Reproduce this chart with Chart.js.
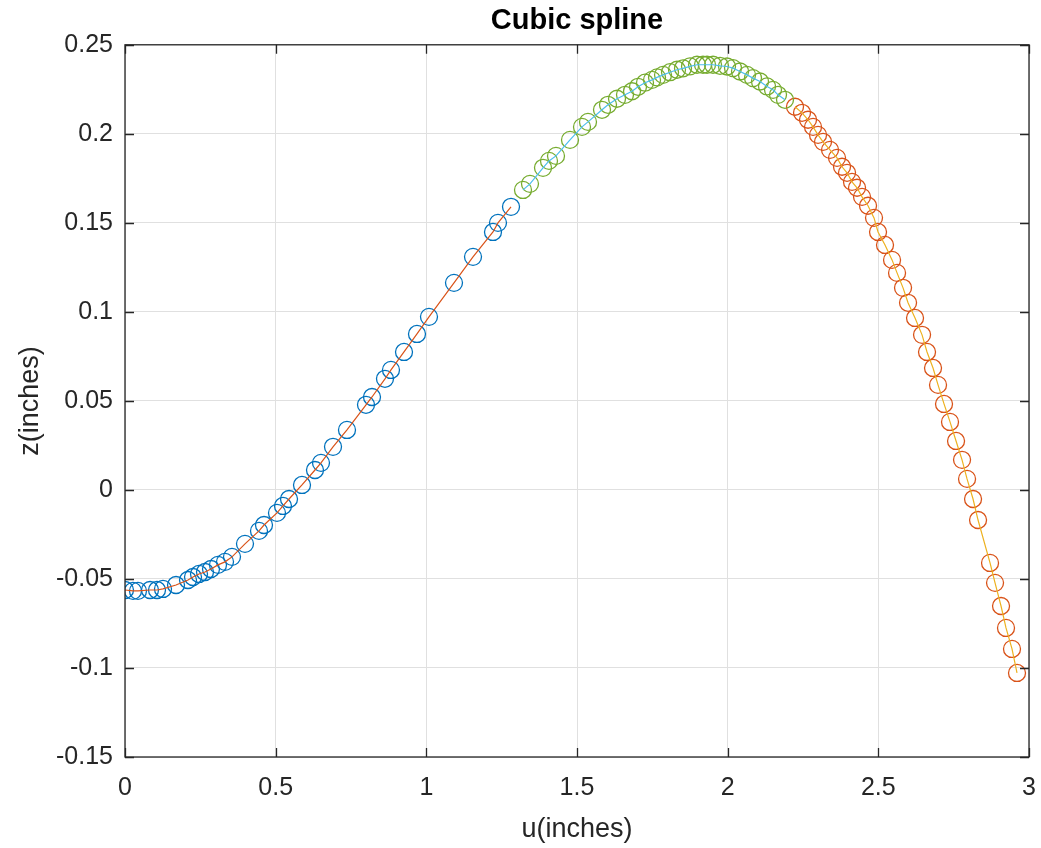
<!DOCTYPE html>
<html>
<head>
<meta charset="utf-8">
<title>Cubic spline</title>
<script src="https://cdn.jsdelivr.net/npm/chart.js@4.4.1/dist/chart.umd.min.js"></script>
<style>
  html, body { margin: 0; padding: 0; background: #fff; }
  #wrap { width: 1041px; height: 848px; }
</style>
</head>
<body>
<div id="wrap"><canvas id="spline" width="1041" height="848"></canvas></div>
<script>
// segment 1 (blue circles, orange line)
const u1 = [0, 0.0265, 0.0431, 0.0830, 0.1062, 0.1261, 0.1693, 0.2091, 0.2257, 0.2456,
  0.2655, 0.2854, 0.3086, 0.3319, 0.3551, 0.3982, 0.4447, 0.4613, 0.5044, 0.5243,
  0.5443, 0.5874, 0.6305, 0.6504, 0.6903, 0.7367, 0.7998, 0.8197, 0.8628, 0.8827,
  0.9259, 0.9690, 1.0088, 1.0918, 1.1549, 1.2212, 1.2378, 1.2810];
const z1 = [-0.0562, -0.0567, -0.0567, -0.0562, -0.0562, -0.0556, -0.0534, -0.0506, -0.0489, -0.0472,
  -0.0461, -0.0444, -0.0421, -0.0404, -0.0376, -0.0303, -0.0230, -0.0197, -0.0129, -0.0090,
  -0.0051, 0.0028, 0.0112, 0.0152, 0.0242, 0.0337, 0.0478, 0.0522, 0.0624, 0.0674,
  0.0775, 0.0876, 0.0972, 0.1163, 0.1309, 0.1449, 0.1500, 0.1590];

// segment 2 (green circles, light blue line)
const u2 = [1.3208, 1.3440, 1.3872, 1.4071, 1.4303, 1.4768, 1.5166, 1.5365, 1.5830, 1.6029,
  1.6328, 1.6593, 1.6826, 1.7025, 1.7257, 1.7490, 1.7656, 1.7855, 1.8087, 1.8319,
  1.8518, 1.8751, 1.8983, 1.9182, 1.9315, 1.9514, 1.9746, 1.9978, 2.0177, 2.0410,
  2.0642, 2.0841, 2.1073, 2.1306, 2.1505, 2.1671, 2.1903];
const z2 = [0.1685, 0.1719, 0.1809, 0.1848, 0.1876, 0.1966, 0.2039, 0.2067, 0.2135, 0.2163,
  0.2197, 0.2219, 0.2239, 0.2264, 0.2287, 0.2303, 0.2317, 0.2331, 0.2346, 0.2360,
  0.2368, 0.2379, 0.2388, 0.2388, 0.2388, 0.2388, 0.2382, 0.2378, 0.2369, 0.2350,
  0.2331, 0.2313, 0.2294, 0.2266, 0.2247, 0.2219, 0.2191];

// segment 3 (red circles, yellow line)
const u3 = [2.2235, 2.2468, 2.2667, 2.2833, 2.2999, 2.3165, 2.3397, 2.3629, 2.3795, 2.3961,
  2.4127, 2.4293, 2.4459, 2.4658, 2.4857, 2.4990, 2.5222, 2.5455, 2.5621, 2.5820,
  2.5986, 2.6218, 2.6451, 2.6616, 2.6815, 2.6981, 2.7180, 2.7379, 2.7579, 2.7778,
  2.7944, 2.8143, 2.8309, 2.8707, 2.8873, 2.9072, 2.9237, 2.9436, 2.9602];
const z3 = [0.2152, 0.2118, 0.2079, 0.2039, 0.1994, 0.1955, 0.1910, 0.1865, 0.1815, 0.1781,
  0.1730, 0.1697, 0.1646, 0.1596, 0.1528, 0.1449, 0.1376, 0.1292, 0.1219, 0.1135,
  0.1051, 0.0966, 0.0871, 0.0775, 0.0685, 0.0590, 0.0483, 0.0382, 0.0275, 0.0169,
  0.0062, -0.0051, -0.0169, -0.0410, -0.0522, -0.0652, -0.0775, -0.0893, -0.1028];

const xTicks = [0, 0.5, 1, 1.5, 2, 2.5, 3];
const yTicks = [-0.15, -0.1, -0.05, 0, 0.05, 0.1, 0.15, 0.2, 0.25];

const FONT = "'Liberation Sans', Arial, Helvetica, sans-serif";
const AXIS = '#262626';

const pts = (u, z) => u.map((v, i) => ({ x: v, y: z[i] }));

function lineSet(u, z, color) {
  return { data: pts(u, z), showLine: true, borderColor: color, borderWidth: 1.2,
    pointRadius: 0, fill: false, tension: 0 };
}
function markSet(u, z, color) {
  return { data: pts(u, z), showLine: false, borderColor: color, backgroundColor: 'rgba(0,0,0,0)',
    pointStyle: 'circle', pointRadius: 8.5, pointBorderWidth: 1.3 };
}

// box + inward ticks like a matlab axes
const axesBox = {
  id: 'axesBox',
  afterDraw(chart) {
    const { ctx, chartArea: a, scales: { x, y } } = chart;
    const len = 9;
    ctx.save();
    ctx.strokeStyle = AXIS;
    ctx.lineWidth = 1.3;
    ctx.beginPath();
    xTicks.forEach(t => {
      const px = Math.round(x.getPixelForValue(t)) + 0.5;
      ctx.moveTo(px, a.bottom); ctx.lineTo(px, a.bottom - len);
      ctx.moveTo(px, a.top); ctx.lineTo(px, a.top + len);
    });
    yTicks.forEach(t => {
      const py = Math.round(y.getPixelForValue(t)) + 0.5;
      ctx.moveTo(a.left, py); ctx.lineTo(a.left + len, py);
      ctx.moveTo(a.right, py); ctx.lineTo(a.right - len, py);
    });
    ctx.stroke();
    ctx.strokeRect(a.left, a.top, a.right - a.left, a.bottom - a.top);
    ctx.restore();
  }
};

new Chart(document.getElementById('spline'), {
  type: 'scatter',
  data: {
    datasets: [
      lineSet(u1, z1, '#D95319'),
      lineSet(u2, z2, '#4DBEEE'),
      lineSet(u3, z3, '#EDB120'),
      markSet(u1, z1, '#0072BD'),
      markSet(u2, z2, '#77AC30'),
      markSet(u3, z3, '#D95319')
    ]
  },
  options: {
    responsive: false,
    animation: false,
    events: [],
    devicePixelRatio: 1,
    layout: { padding: 0 },
    plugins: {
      legend: { display: false },
      tooltip: { enabled: false },
      title: {
        display: true,
        text: 'Cubic spline',
        fullSize: false,
        color: '#000',
        font: { family: FONT, size: 29, weight: 'bold' },
        padding: { top: 4, bottom: 6 }
      }
    },
    scales: {
      x: {
        type: 'linear',
        min: 0, max: 3,
        afterBuildTicks: s => { s.ticks = xTicks.map(v => ({ value: v })); },
        afterFit: s => { s.height = 91; s.paddingLeft = 0; s.paddingRight = 12; },
        ticks: { color: AXIS, font: { family: FONT, size: 25 }, padding: 16,
          callback: v => String(v), maxRotation: 0 },
        grid: { color: '#e0e0e0', lineWidth: 1, drawTicks: false },
        border: { display: false },
        title: { display: true, text: 'u(inches)', color: AXIS,
          font: { family: FONT, size: 27 }, padding: { top: 0, bottom: 2 } }
      },
      y: {
        type: 'linear',
        min: -0.15, max: 0.25,
        afterBuildTicks: s => { s.ticks = yTicks.map(v => ({ value: v })); },
        afterFit: s => { s.width = 125; },
        ticks: { color: AXIS, font: { family: FONT, size: 25 }, padding: 12,
          callback: v => String(Math.round(v * 100) / 100) },
        grid: { color: '#e0e0e0', lineWidth: 1, drawTicks: false },
        border: { display: false },
        title: { display: true, text: 'z(inches)', color: AXIS,
          font: { family: FONT, size: 27 }, padding: { top: 14, bottom: 0 } }
      }
    }
  },
  plugins: [axesBox]
});
</script>
</body>
</html>
